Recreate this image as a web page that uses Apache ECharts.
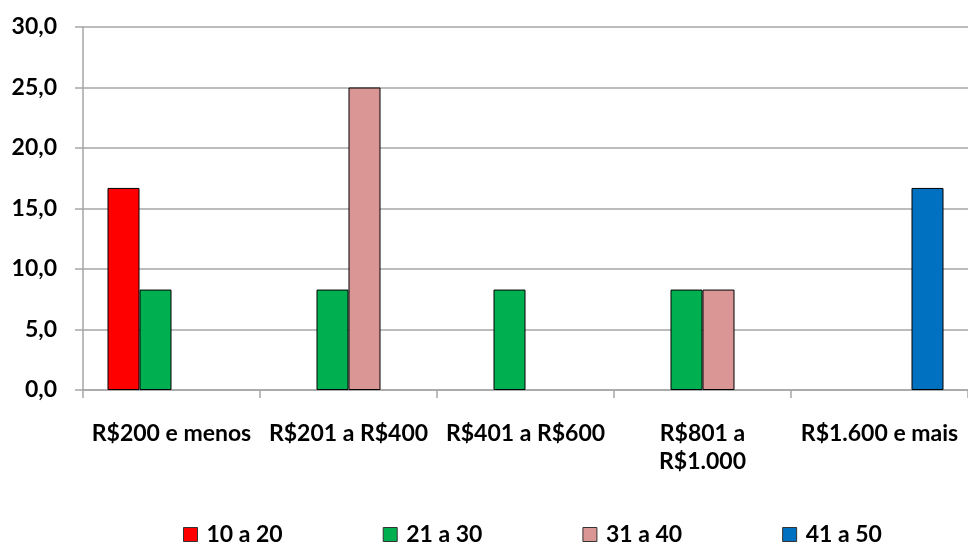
<!DOCTYPE html>
<html>
<head>
<meta charset="utf-8">
<script src="https://cdn.jsdelivr.net/npm/echarts@6/dist/echarts.min.js"></script>
<style>html,body{margin:0;padding:0;background:#fff;}#c{width:968px;height:545px;}</style>
</head>
<body>
<div id="c"></div>
<script>
var categories = ['R$200 e menos', 'R$201 a R$400', 'R$401 a R$600', 'R$801 a\nR$1.000', 'R$1.600 e mais'];
var seriesNames = ['10 a 20', '21 a 30', '31 a 40', '41 a 50'];
var s10a20 = [16.7, null, null, null, null];
var s21a30 = [8.3, 8.3, 8.3, 8.3, null];
var s31a40 = [null, 25.0, null, 8.3, null];
var s41a50 = [null, null, null, null, 16.7];
var colors = ['#FF0000', '#00B050', '#D99694', '#0070C0'];
var yTicks = {min: 0, max: 30, interval: 5};

var font = 'Lato';
var chart = echarts.init(document.getElementById('c'), null, {renderer: 'canvas'});
var data = [s10a20, s21a30, s31a40, s41a50];
chart.setOption({
  animation: false,
  backgroundColor: '#fff',
  grid: {left: 83, top: 27, width: 890, height: 363, containLabel: false},
  legend: {
    top: 518, left: 178,
    itemWidth: 14, itemHeight: 14, itemGap: 100,
    icon: 'rect',
    itemStyle: {borderColor: '#333', borderWidth: 1},
    textStyle: {fontFamily: font, fontWeight: 'bold', fontSize: 23, color: '#000', padding: [0, 0, 0, 4]},
    data: seriesNames
  },
  xAxis: {
    type: 'category', data: categories,
    axisLine: {lineStyle: {color: '#A6A6A6', width: 1.5}},
    axisTick: {show: true, length: 8, lineStyle: {color: '#A6A6A6', width: 1.5}},
    axisLabel: {fontFamily: font, fontWeight: 'bold', fontSize: 23, color: '#000', margin: 30, lineHeight: 28, interval: 0}
  },
  yAxis: {
    type: 'value', min: yTicks.min, max: yTicks.max, interval: yTicks.interval,
    axisLine: {show: true, lineStyle: {color: '#A6A6A6', width: 1.5}},
    axisTick: {show: true, length: 8, lineStyle: {color: '#A6A6A6', width: 1.5}},
    splitLine: {lineStyle: {color: '#A6A6A6', width: 1.5}},
    axisLabel: {fontFamily: font, fontWeight: 'bold', fontSize: 23, color: '#000', margin: 26,
      formatter: function (v) { return v.toFixed(1).replace('.', ','); }}
  },
  series: data.map(function (d, i) {
    return {
      name: seriesNames[i], type: 'bar', data: d,
      barWidth: 32, barGap: '0%',
      itemStyle: {color: colors[i], borderColor: '#000', borderWidth: 1}
    };
  })
});
</script>
</body>
</html>
